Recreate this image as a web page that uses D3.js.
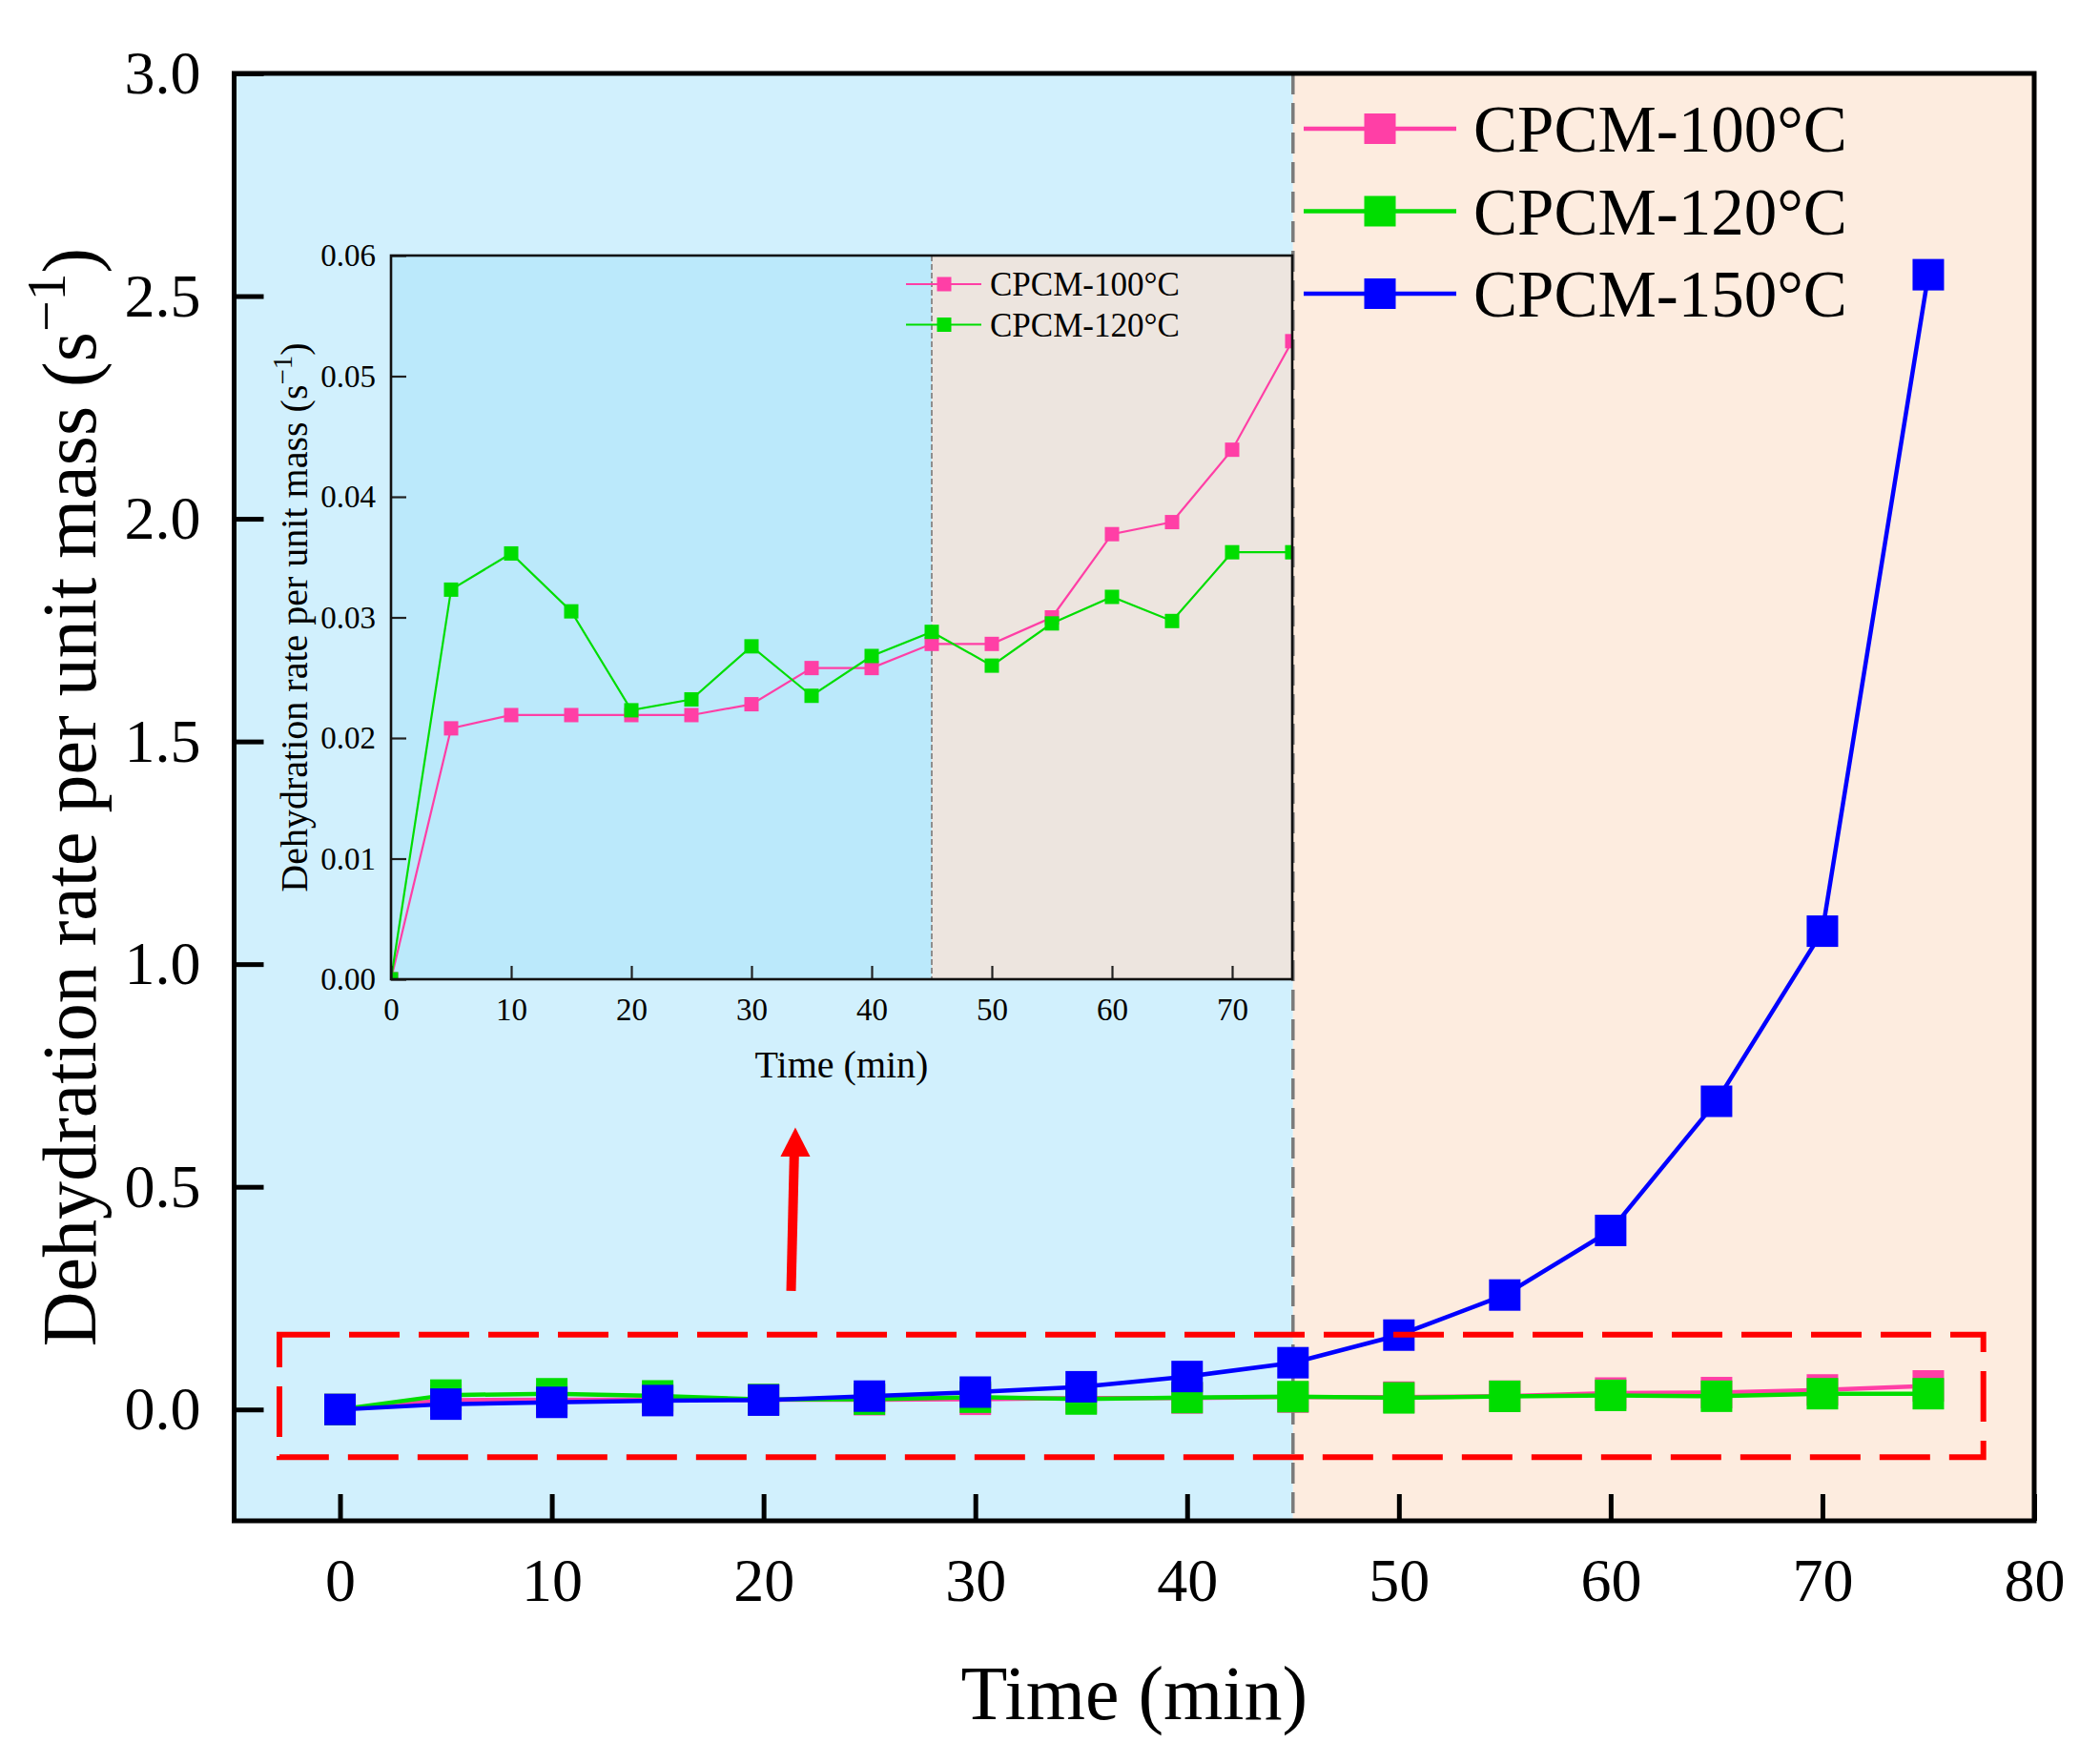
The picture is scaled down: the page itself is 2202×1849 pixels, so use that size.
<!DOCTYPE html>
<html>
<head>
<meta charset="utf-8">
<script src="https://cdn.jsdelivr.net/npm/d3@7"></script>
<style>
  body { margin: 0; background: #fff; }
  text { font-family: "Liberation Serif", "Times New Roman", serif; fill: #000; }
</style>
</head>
<body>
<svg id="chart" width="2202" height="1849"></svg>
<script>
// data
const time = [0, 5, 10, 15, 20, 25, 30, 35, 40, 45, 50, 55, 60, 65, 70, 75];
const cpcm100 = [0, 0.0208, 0.0219, 0.0219, 0.0219, 0.0219, 0.0228, 0.0258, 0.0258, 0.0278, 0.0278, 0.0300, 0.0369, 0.0379, 0.0439, 0.0529];
const cpcm120 = [0, 0.0323, 0.0353, 0.0305, 0.0223, 0.0232, 0.0276, 0.0235, 0.0268, 0.0288, 0.0260, 0.0295, 0.0317, 0.0297, 0.0354, 0.0354];
const cpcm150 = [0, 0.012, 0.016, 0.020, 0.021, 0.030, 0.039, 0.051, 0.074, 0.105, 0.167, 0.257, 0.402, 0.692, 1.074, 2.548];
const seriesNames = ['CPCM-100°C', 'CPCM-120°C', 'CPCM-150°C'];
const seriesColors = ['#ff3fa6', '#00dd00', '#0000ff'];
const xTicks = [0, 10, 20, 30, 40, 50, 60, 70, 80];
const yTicks = [0, 0.5, 1.0, 1.5, 2.0, 2.5, 3.0];
const insetXTicks = [0, 10, 20, 30, 40, 50, 60, 70];
const insetYTicks = [0, 0.01, 0.02, 0.03, 0.04, 0.05, 0.06];
const splitTime = 45;

const svg = d3.select('#chart');

// main plot
const x = d3.scaleLinear().domain([-5, 80]).range([245.5, 2133]);
const y = d3.scaleLinear().domain([-0.25, 3]).range([1595, 77]);

const allSeries = [cpcm100, cpcm120, cpcm150].map((vals, i) => ({
  name: seriesNames[i],
  color: seriesColors[i],
  points: time.map((t, j) => ({ t, v: vals[j] }))
}));

// background regions
svg.append('rect')
  .attr('x', x(-5)).attr('y', y(3))
  .attr('width', x(splitTime) - x(-5)).attr('height', y(-0.25) - y(3))
  .attr('fill', '#d1f0fd');
svg.append('rect')
  .attr('x', x(splitTime)).attr('y', y(3))
  .attr('width', x(80) - x(splitTime)).attr('height', y(-0.25) - y(3))
  .attr('fill', '#fdecdf');

svg.append('line')
  .attr('x1', x(splitTime)).attr('x2', x(splitTime))
  .attr('y1', y(3)).attr('y2', y(-0.25))
  .attr('stroke', '#7a7a7a').attr('stroke-width', 3.5)
  .attr('stroke-dasharray', '22 9');

// series
const mainLine = d3.line().x(d => x(d.t)).y(d => y(d.v));
const gSeries = svg.append('g');
allSeries.forEach(s => {
  gSeries.append('path')
    .attr('d', mainLine(s.points))
    .attr('fill', 'none').attr('stroke', s.color).attr('stroke-width', 4.5);
  gSeries.selectAll(null).data(s.points).join('rect')
    .attr('x', d => x(d.t) - 16.5).attr('y', d => y(d.v) - 16.5)
    .attr('width', 33).attr('height', 33)
    .attr('fill', s.color);
});

// red dashed box + arrow
svg.append('rect')
  .attr('x', x(-2.86)).attr('y', y(0.168))
  .attr('width', x(77.6) - x(-2.86)).attr('height', y(-0.107) - y(0.168))
  .attr('fill', 'none').attr('stroke', '#ff0000').attr('stroke-width', 6)
  .attr('stroke-dasharray', '53 20');

svg.append('line')
  .attr('x1', x(21.3)).attr('y1', y(0.266))
  .attr('x2', x(21.45)).attr('y2', y(0.575))
  .attr('stroke', '#ff0000').attr('stroke-width', 10);
svg.append('path')
  .attr('d', `M${x(21.5)},${y(0.633)} L${x(20.8)},${y(0.568)} L${x(22.2)},${y(0.568)} Z`)
  .attr('fill', '#ff0000');

// main axes
const fontMain = 64;
const gx = svg.append('g')
  .attr('transform', `translate(0,${y(-0.25)})`)
  .call(d3.axisBottom(x).tickValues(xTicks).tickSize(-28).tickPadding(39).tickFormat(d3.format('d')));
const gy = svg.append('g')
  .attr('transform', `translate(${x(-5)},0)`)
  .call(d3.axisLeft(y).tickValues(yTicks).tickSize(-31).tickPadding(35).tickFormat(d3.format('.1f')));
[gx, gy].forEach(g => {
  g.select('.domain').remove();
  g.selectAll('.tick line').attr('stroke', '#000').attr('stroke-width', 5);
  g.selectAll('.tick text').attr('font-size', fontMain).attr('fill', '#000')
    .style('font-family', '"Liberation Serif", "Times New Roman", serif');
});

svg.append('rect')
  .attr('x', x(-5)).attr('y', y(3))
  .attr('width', x(80) - x(-5)).attr('height', y(-0.25) - y(3))
  .attr('fill', 'none').attr('stroke', '#000').attr('stroke-width', 5);

svg.append('text')
  .attr('x', (x(-5) + x(80)) / 2).attr('y', 1803)
  .attr('text-anchor', 'middle').attr('font-size', 80)
  .text('Time (min)');

const yTitle = svg.append('text')
  .attr('transform', `translate(100,${(y(3) + y(-0.25)) / 2}) rotate(-90)`)
  .attr('text-anchor', 'middle').attr('font-size', 80);
yTitle.append('tspan').text('Dehydration rate per unit mass (s');
yTitle.append('tspan').attr('font-size', 58).attr('dy', -32).text('−1');
yTitle.append('tspan').attr('dy', 32).text(')');

// main legend
const legMain = svg.append('g');
allSeries.forEach((s, i) => {
  const ly = 135 + i * 86.5;
  legMain.append('line')
    .attr('x1', 1367).attr('x2', 1527).attr('y1', ly).attr('y2', ly)
    .attr('stroke', s.color).attr('stroke-width', 4.5);
  legMain.append('rect')
    .attr('x', 1447 - 16.5).attr('y', ly - 16).attr('width', 33).attr('height', 32)
    .attr('fill', s.color);
  legMain.append('text')
    .attr('x', 1545).attr('y', ly).attr('dy', '0.35em')
    .attr('font-size', 69).text(s.name);
});

// inset
const ix = d3.scaleLinear().domain([0, 75]).range([410, 1355]);
const iy = d3.scaleLinear().domain([0, 0.06]).range([1027, 268]);
const inset = svg.append('g');

inset.append('rect')
  .attr('x', ix(0)).attr('y', iy(0.06))
  .attr('width', ix(splitTime) - ix(0)).attr('height', iy(0) - iy(0.06))
  .attr('fill', '#bbe9fb');
inset.append('rect')
  .attr('x', ix(splitTime)).attr('y', iy(0.06))
  .attr('width', ix(75) - ix(splitTime)).attr('height', iy(0) - iy(0.06))
  .attr('fill', '#ede5df');
inset.append('line')
  .attr('x1', ix(splitTime)).attr('x2', ix(splitTime))
  .attr('y1', iy(0.06)).attr('y2', iy(0))
  .attr('stroke', '#8e8e8e').attr('stroke-width', 2)
  .attr('stroke-dasharray', '6 3');

svg.append('clipPath').attr('id', 'insetClip')
  .append('rect')
  .attr('x', ix(0)).attr('y', iy(0.06))
  .attr('width', ix(75) - ix(0)).attr('height', iy(0) - iy(0.06));

const insetLine = d3.line().x(d => ix(d.t)).y(d => iy(d.v));
const gInset = inset.append('g').attr('clip-path', 'url(#insetClip)');
allSeries.slice(0, 2).forEach(s => {
  gInset.append('path')
    .attr('d', insetLine(s.points))
    .attr('fill', 'none').attr('stroke', s.color).attr('stroke-width', 2.2);
  gInset.selectAll(null).data(s.points).join('rect')
    .attr('x', d => ix(d.t) - 7.5).attr('y', d => iy(d.v) - 7.5)
    .attr('width', 15).attr('height', 15)
    .attr('fill', s.color);
});

const igx = inset.append('g')
  .attr('transform', `translate(0,${iy(0)})`)
  .call(d3.axisBottom(ix).tickValues(insetXTicks).tickSize(-14).tickPadding(20).tickFormat(d3.format('d')));
const igy = inset.append('g')
  .attr('transform', `translate(${ix(0)},0)`)
  .call(d3.axisLeft(iy).tickValues(insetYTicks).tickSize(-16).tickPadding(16).tickFormat(d3.format('.2f')));
[igx, igy].forEach(g => {
  g.select('.domain').remove();
  g.selectAll('.tick line').attr('stroke', '#222').attr('stroke-width', 2.2);
  g.selectAll('.tick text').attr('font-size', 33).attr('fill', '#000')
    .style('font-family', '"Liberation Serif", "Times New Roman", serif');
});

inset.append('rect')
  .attr('x', ix(0)).attr('y', iy(0.06))
  .attr('width', ix(75) - ix(0)).attr('height', iy(0) - iy(0.06))
  .attr('fill', 'none').attr('stroke', '#111').attr('stroke-width', 2.6);

inset.append('text')
  .attr('x', (ix(0) + ix(75)) / 2).attr('y', 1130)
  .attr('text-anchor', 'middle').attr('font-size', 40)
  .text('Time (min)');

const iyTitle = inset.append('text')
  .attr('transform', `translate(322,${(iy(0) + iy(0.06)) / 2}) rotate(-90)`)
  .attr('text-anchor', 'middle').attr('font-size', 40);
iyTitle.append('tspan').text('Dehydration rate per unit mass (s');
iyTitle.append('tspan').attr('font-size', 29).attr('dy', -16).text('−1');
iyTitle.append('tspan').attr('dy', 16).text(')');

// inset legend
allSeries.slice(0, 2).forEach((s, i) => {
  const ly = 298 + i * 42.5;
  inset.append('line')
    .attr('x1', 950).attr('x2', 1029).attr('y1', ly).attr('y2', ly)
    .attr('stroke', s.color).attr('stroke-width', 2.2);
  inset.append('rect')
    .attr('x', 990 - 7.5).attr('y', ly - 7.5).attr('width', 15).attr('height', 15)
    .attr('fill', s.color);
  inset.append('text')
    .attr('x', 1038).attr('y', ly).attr('dy', '0.35em')
    .attr('font-size', 35).text(s.name);
});
</script>
</body>
</html>
